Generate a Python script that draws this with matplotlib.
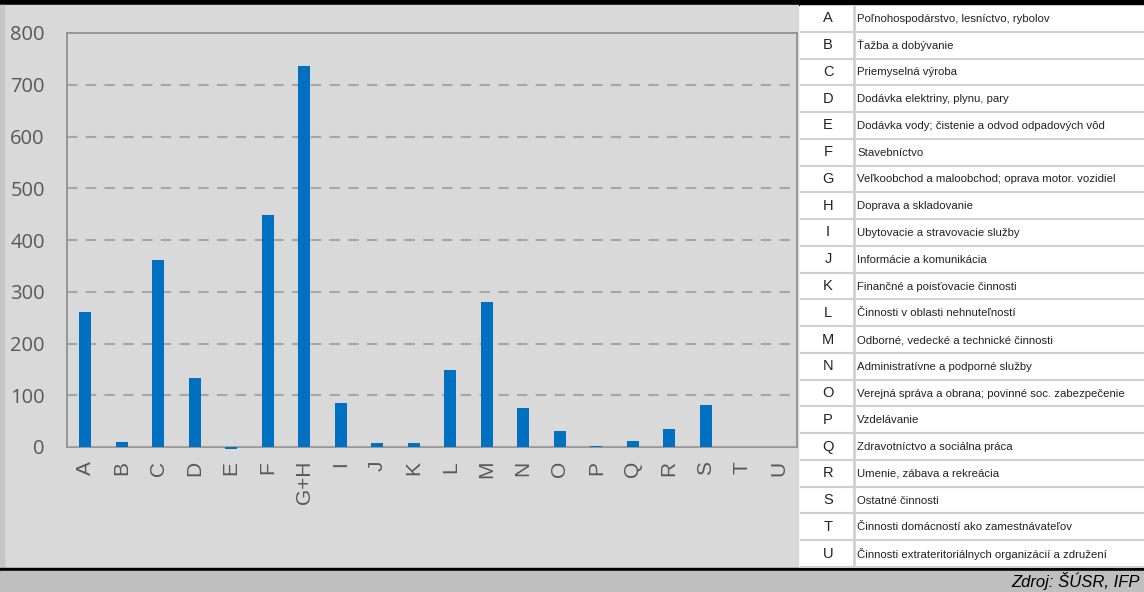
import numpy as np
import matplotlib
matplotlib.use('Agg')
from matplotlib import pyplot as plt
from matplotlib.patches import Rectangle

# data
cats = ['A', 'B', 'C', 'D', 'E', 'F', 'G+H', 'I', 'J', 'K', 'L',
        'M', 'N', 'O', 'P', 'Q', 'R', 'S', 'T', 'U']
vals = [261, 10, 361, 133, -3, 448, 736, 85, 7, 7, 149,
        280, 76, 31, 2, 11, 35, 81, 0, 0]

codes = ['A', 'B', 'C', 'D', 'E', 'F', 'G', 'H', 'I', 'J', 'K',
         'L', 'M', 'N', 'O', 'P', 'Q', 'R', 'S', 'T', 'U']
names = ['Poľnohospodárstvo, lesníctvo, rybolov',
         'Ťažba a dobývanie',
         'Priemyselná výroba',
         'Dodávka elektriny, plynu, pary',
         'Dodávka vody; čistenie a odvod odpadových vôd',
         'Stavebníctvo',
         'Veľkoobchod a maloobchod; oprava motor. vozidiel',
         'Doprava a skladovanie',
         'Ubytovacie a stravovacie služby',
         'Informácie a komunikácia',
         'Finančné a poisťovacie činnosti',
         'Činnosti v oblasti nehnuteľností',
         'Odborné, vedecké a technické činnosti',
         'Administratívne a podporné služby',
         'Verejná správa a obrana; povinné soc. zabezpečenie',
         'Vzdelávanie',
         'Zdravotníctvo a sociálna práca',
         'Umenie, zábava a rekreácia',
         'Ostatné činnosti',
         'Činnosti domácností ako zamestnávateľov',
         'Činnosti extrateritoriálnych organizácií a združení']
source = 'Zdroj: ŠÚSR, IFP'

W, H = 1144, 592
fig = plt.figure(figsize=(W / 100, H / 100), dpi=100)
fig.patch.set_facecolor('white')

def band(x0, y0, w, h, c):
    # rectangle in pixel coords measured from the top-left
    fig.add_artist(Rectangle((x0 / W, 1 - (y0 + h) / H), w / W, h / H,
                             transform=fig.transFigure, color=c, zorder=-5))

band(0, 0, W, 5, 'black')
band(0, 5, 798, 563, '#d9d9d9')
band(0, 5, 4, 563, '#c6c6c6')
band(0, 568, W, 3, 'black')
band(0, 571, W, 21, '#bfbfbf')
fig.text(1140 / W, 11 / H, source, ha='right', va='center', fontsize=12,
         style='italic', family='Liberation Sans', color='black')

# bar chart
ax = fig.add_axes([67 / W, 1 - 447 / H, 730 / W, 414 / H])
ax.set_facecolor('#d9d9d9')
x = np.arange(len(cats))
ax.bar(x, vals, width=0.34, color='#0070c0', zorder=5, clip_on=False)
ax.set_xlim(-0.5, len(cats) - 0.5)
ax.set_ylim(0, 800)
ax.set_yticks(range(0, 801, 100))
ax.set_yticklabels([str(v) for v in range(0, 801, 100)], fontsize=14.5,
                   color='#595959', family='Open Sans')
ax.set_xticks(x)
ax.set_xticklabels(cats, rotation=90, fontsize=15, color='#595959',
                   family='Liberation Sans')
ax.tick_params(length=0)
ax.tick_params(axis='x', pad=10)
ax.tick_params(axis='y', pad=16)
for yv in range(100, 800, 100):
    ax.axhline(yv, color='#a6a6a6', lw=1.5, ls=(0, (5, 4)), zorder=1)
for s in ax.spines.values():
    s.set_color('#8c8c8c')
    s.set_linewidth(1.2)
ax.axhline(0, color='#a6a6a6', lw=1.5, zorder=4)

# legend table
tx = fig.add_axes([800 / W, 1 - 567 / H, 344 / W, 562 / H])
tx.set_xlim(0, 344)
tx.set_ylim(len(codes), 0)
tx.axis('off')
tx.add_patch(Rectangle((0, 0), 344, len(codes), color='white', zorder=0))
for i in range(len(codes) + 1):
    tx.plot([0, 344], [i, i], color='#d0d0d0', lw=1.5, zorder=1)
tx.plot([54, 54], [0, len(codes)], color='#d0d0d0', lw=2, zorder=1)
for i, (c, n) in enumerate(zip(codes, names)):
    tx.text(28, i + 0.5, c, ha='center', va='center', fontsize=10.5,
            family='Liberation Sans', color='#222222')
    tx.text(57, i + 0.52, n, ha='left', va='center', fontsize=8.2,
            family='Liberation Sans', color='#222222')

fig.savefig('out.png', dpi=100)
